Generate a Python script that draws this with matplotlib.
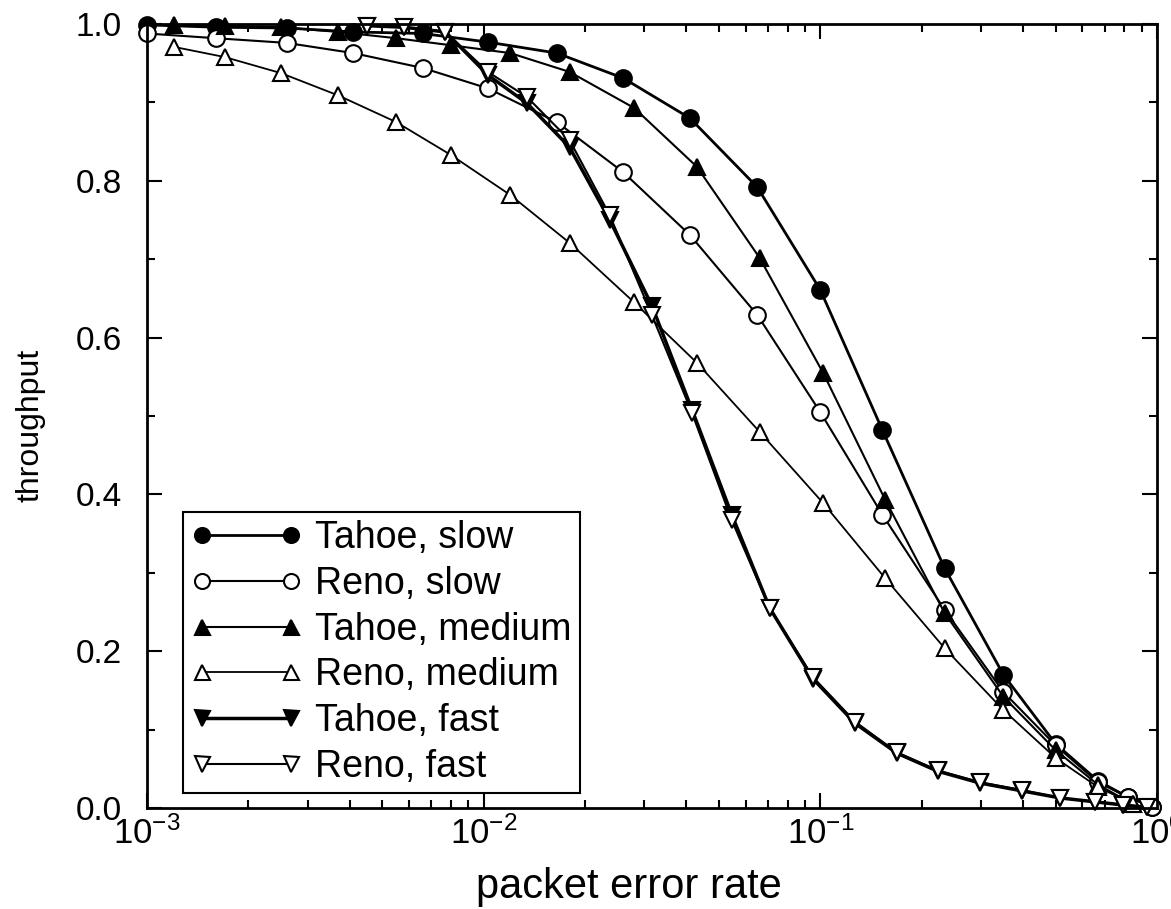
import numpy as np
import matplotlib
matplotlib.use("Agg")
import matplotlib.pyplot as plt
from matplotlib.ticker import FormatStrFormatter, MultipleLocator, LogLocator

plt.rcParams['font.family'] = ['Liberation Sans', 'DejaVu Sans']
plt.rcParams['mathtext.fontset'] = 'custom'
plt.rcParams['mathtext.rm'] = 'Liberation Sans'

# packet error rates (three different grids)
x_slow = [0.001, 0.0016, 0.0026, 0.0041, 0.0066, 0.0103, 0.0165, 0.026, 0.041,
          0.065, 0.1, 0.153, 0.234, 0.35, 0.5, 0.667, 0.82, 0.97]
x_medium = [0.0012, 0.0017, 0.0025, 0.0037, 0.0055, 0.008, 0.012, 0.018, 0.028,
            0.043, 0.066, 0.102, 0.156, 0.234, 0.35, 0.5, 0.667, 0.85]
x_fast = [0.0045, 0.0058, 0.0077, 0.0103, 0.01345,
          0.018, 0.0237, 0.0316, 0.0416, 0.0546, 0.0708, 0.0951, 0.127, 0.169,
          0.2235, 0.298, 0.397, 0.515, 0.654, 0.792, 0.933]

tahoe_slow = [0.999, 0.996, 0.995, 0.990, 0.988, 0.977, 0.963, 0.931, 0.880,
              0.792, 0.661, 0.482, 0.306, 0.170, 0.082, 0.035, 0.014, 0.002]
reno_slow = [0.988, 0.982, 0.976, 0.963, 0.944, 0.918, 0.875, 0.811, 0.731,
             0.629, 0.505, 0.374, 0.253, 0.148, 0.080, 0.033, 0.014, 0.002]
tahoe_medium = [0.999, 0.998, 0.996, 0.990, 0.982, 0.973, 0.963, 0.939, 0.893,
                0.818, 0.702, 0.555, 0.393, 0.249, 0.142, 0.074, 0.030, 0.005]
reno_medium = [0.971, 0.958, 0.9375, 0.909, 0.875, 0.833, 0.782, 0.721, 0.645,
               0.568, 0.480, 0.389, 0.293, 0.204, 0.125, 0.064, 0.027, 0.005]
tahoe_fast = [0.998, 0.996, 0.99, 0.935, 0.899,
              0.843, 0.750, 0.641, 0.508, 0.374, 0.255, 0.165, 0.108, 0.070,
              0.047, 0.032, 0.022, 0.013, 0.008, 0.004, 0.001]
reno_fast = [0.998, 0.996, 0.99, 0.939, 0.907,
             0.852, 0.756, 0.629, 0.504, 0.367, 0.255, 0.167, 0.110, 0.071,
             0.048, 0.033, 0.023, 0.013, 0.008, 0.004, 0.001]

fig = plt.figure(figsize=(11.71, 9.09), dpi=100)
ax = fig.add_axes([0.1255, 0.111, 0.8625, 0.8625])

ms = 12
ax.plot(x_slow, tahoe_slow, '-o', color='black', lw=2, ms=ms, mfc='black', mew=1.5,
        label='Tahoe, slow', clip_on=False)
ax.plot(x_slow, reno_slow, '-o', color='black', lw=1.5, ms=ms, mfc='white', mew=1.5,
        label='Reno, slow', clip_on=False)
ax.plot(x_medium, tahoe_medium, '-^', color='black', lw=1.5, ms=ms, mfc='black', mew=1.5,
        label='Tahoe, medium', clip_on=False)
ax.plot(x_medium, reno_medium, '-^', color='black', lw=1.3, ms=ms, mfc='white', mew=1.5,
        label='Reno, medium', clip_on=False)
ax.plot(x_fast, tahoe_fast, '-v', color='black', lw=2.5, ms=ms, mfc='black', mew=1.5,
        label='Tahoe, fast', clip_on=False)
ax.plot(x_fast, reno_fast, '-v', color='black', lw=1.5, ms=ms, mfc='white', mew=1.5,
        label='Reno, fast', clip_on=False)

ax.set_xscale('log')
ax.set_xlim(1e-3, 1)
ax.set_ylim(0, 1)
ax.yaxis.set_major_locator(MultipleLocator(0.2))
ax.yaxis.set_minor_locator(MultipleLocator(0.1))
ax.yaxis.set_major_formatter(FormatStrFormatter('%.1f'))
ax.xaxis.set_minor_locator(LogLocator(base=10, subs=np.arange(2, 10)))

ax.tick_params(which='both', direction='in', top=True, right=True, width=1.5)
ax.tick_params(which='major', length=11)
ax.tick_params(which='minor', length=6)
ax.tick_params(axis='y', which='major', labelsize=24, pad=18)
ax.tick_params(axis='x', which='major', labelsize=25, pad=6)
for s in ax.spines.values():
    s.set_linewidth(2)

ax.set_xlabel('packet error rate', fontsize=30)
ax.xaxis.set_label_coords(0.477, -0.075)
ax.set_ylabel('throughput', fontsize=23)
ax.yaxis.set_label_coords(-0.1, 0.488)

leg = ax.legend(loc='lower left', bbox_to_anchor=(0.0356, 0.019), borderaxespad=0,
                numpoints=2, fontsize=27, handlelength=2.95, handletextpad=0.35,
                labelspacing=0.26, borderpad=0.22, fancybox=False, framealpha=1,
                edgecolor='black', markerscale=0.9)
leg.get_frame().set_linewidth(1.5)

fig.savefig('out.png', dpi=100)
